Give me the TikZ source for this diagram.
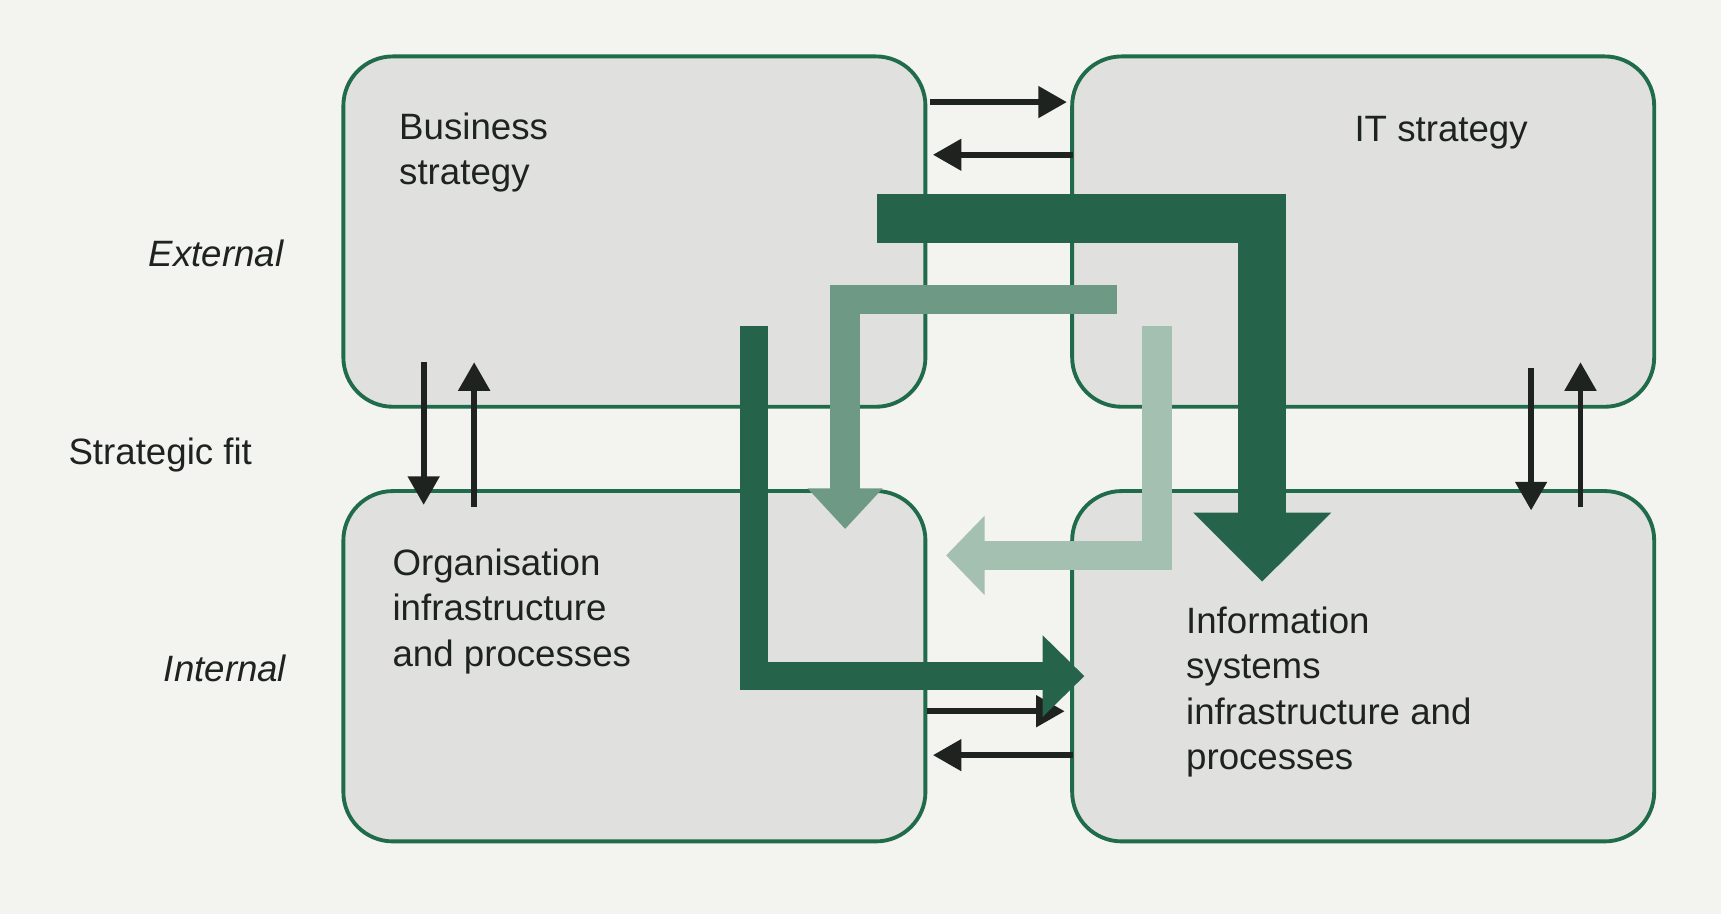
\documentclass[tikz,border=0pt]{standalone}
\usepackage{fontspec}
\setmainfont{Liberation Sans}
\usetikzlibrary{arrows.meta,positioning}
\definecolor{bgcol}{HTML}{F3F3EF}
\definecolor{boxfill}{HTML}{E0E1DE}
\definecolor{boxline}{HTML}{1F6B4A}
\definecolor{darkg}{HTML}{25634A}
\definecolor{midg}{HTML}{6E9A85}
\definecolor{lightg}{HTML}{A3C0B0}
\definecolor{ink}{HTML}{1E2320}

\begin{document}
\begin{tikzpicture}[x=0.01cm, y=-0.01cm]
        \tikzstyle{quadbox}=[draw=boxline, fill=boxfill, line width=1pt, rounded corners=0.45cm, minimum width=5.3cm, minimum height=3.19cm];
        \tikzstyle{txt}=[font=\fontsize{9.5}{11.8}\selectfont, text=ink, align=left, inner sep=0pt];
        \tikzstyle{fitarrow}=[line width=1.5pt, ink, -{Triangle[length=0.26cm,width=0.28cm]}];

        \fill[bgcol] (0, 0) rectangle (1568, 833);

        % four domains
        \node[quadbox] (bs) at (578, 211) {};
        \node[quadbox] (it) at (1242, 211) {};
        \node[quadbox] (oi) at (578, 607) {};
        \node[quadbox] (is) at (1242, 607) {};

        \node[txt, anchor=north west] (bst) at (363, 102) {Business\\strategy};
        \node[txt] (itt) at (1313, 121) {IT strategy};
        \node[txt, anchor=north west] (oit) at (357, 499) {Organisation\\infrastructure\\and processes};
        \node[txt, anchor=north west] (ist) at (1080, 552) {Information\\systems\\infrastructure and\\processes};

        \node[txt, font=\fontsize{9.5}{11.8}\selectfont\itshape] (ext) at (197, 231) {External};
        \node[txt] (sfit) at (146, 415) {Strategic fit};
        \node[txt, font=\fontsize{9.5}{11.8}\selectfont\itshape] (int) at (205, 609) {Internal};

        % small fit arrows
        \draw[fitarrow] (847, 93) -- (972, 93);
        \draw[fitarrow] (978, 141) -- (850, 141);
        \draw[fitarrow] (845, 648) -- (970, 648);
        \draw[fitarrow] (978, 688) -- (850, 688);
        \draw[fitarrow] (386, 330) -- (386, 460);
        \draw[fitarrow] (432, 462) -- (432, 330);
        \draw[fitarrow] (1395, 335) -- (1395, 465);
        \draw[fitarrow] (1440, 462) -- (1440, 330);

        % alignment arrows
        \draw[lightg, line width=0.27cm, -{Triangle[length=0.35cm,width=0.7cm]}] (1054, 297) -- (1054, 506) -- (862, 506);
        \draw[midg, line width=0.27cm, -{Triangle[length=0.37cm,width=0.66cm]}] (1018, 273) -- (770, 273) -- (770, 482);
        \draw[darkg, line width=0.26cm, -{Triangle[length=0.38cm,width=0.72cm]}] (687, 297) -- (687, 616) -- (988, 616);
        \draw[darkg, line width=0.44cm, -{Triangle[length=0.63cm,width=1.22cm]}] (799, 199) -- (1150, 199) -- (1150, 530);
\end{tikzpicture}
\end{document}
